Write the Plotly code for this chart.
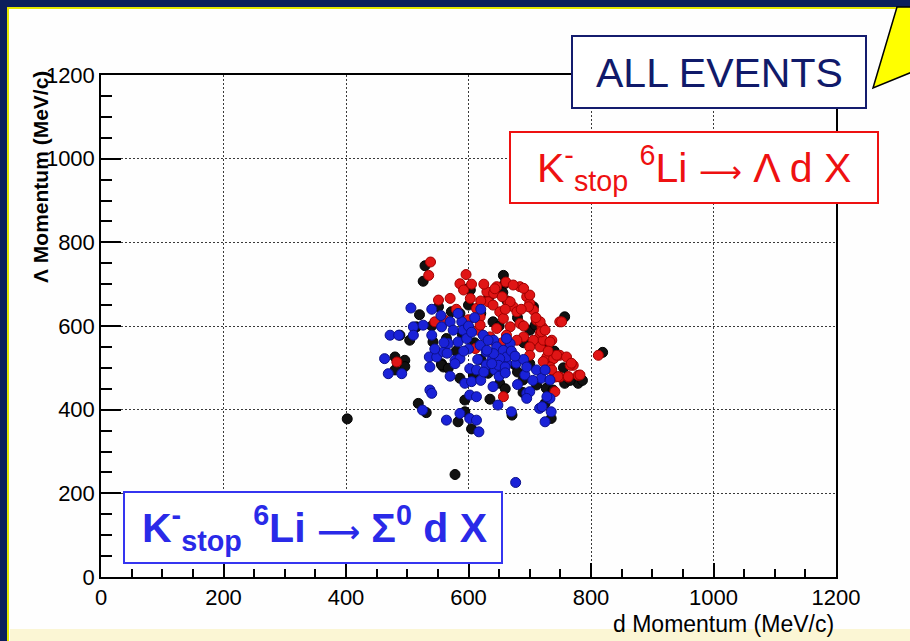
import plotly.graph_objects as go

# ---------------- data (MeV/c) ----------------
# all events (black)
black_points = [
    (402, 378), (578, 245), (529, 744), (526, 707), (599, 689), (551, 646), (520, 627),
    (515, 598), (488, 578), (504, 566), (480, 526), (496, 518), (556, 510), (542, 562),
    (572, 634), (586, 630), (564, 570), (559, 502), (480, 495), (496, 503), (556, 507),
    (567, 499), (586, 475), (608, 483), (594, 423), (518, 415), (531, 393), (583, 371),
    (594, 395), (605, 354), (632, 487), (651, 463), (635, 425), (671, 387), (676, 507),
    (689, 471), (689, 441), (711, 459), (727, 451), (725, 415), (735, 379), (779, 463),
    (757, 463), (738, 447), (657, 721), (659, 701), (706, 646), (722, 554), (757, 622),
    (819, 537), (725, 518), (600, 650), (620, 630), (640, 610), (680, 620), (700, 590),
    (610, 560), (590, 580), (663, 660), (690, 560), (580, 540), (620, 520), (650, 600),
    (700, 510), (740, 540), (755, 500), (680, 490), (660, 450), (540, 600), (656, 680),
    (633, 668), (603, 686), (709, 602), (766, 470), (786, 470),
]
# K-stop 6Li -> Lambda d X (red)
red_points = [
    (538, 753), (535, 721), (596, 723), (586, 701), (592, 686), (603, 666), (551, 662),
    (570, 666), (661, 705), (630, 682), (641, 678), (632, 658), (665, 658), (673, 646),
    (679, 634), (651, 634), (613, 642), (619, 622), (695, 670), (700, 654), (706, 638),
    (711, 614), (720, 598), (717, 582), (706, 566), (749, 610), (812, 530), (483, 514),
    (657, 431), (728, 526), (739, 522), (749, 530), (760, 526), (771, 506), (741, 478),
    (749, 478), (763, 478), (779, 482), (733, 502), (736, 566), (545, 610), (603, 586),
    (616, 590), (668, 598), (684, 606), (690, 574), (700, 550), (717, 550), (679, 566),
    (638, 566), (611, 546), (684, 694), (673, 698), (646, 694), (722, 566), (643, 689),
    (668, 658), (657, 618), (646, 594), (662, 578), (700, 674), (698, 646), (717, 610),
    (719, 586), (733, 562), (752, 610), (744, 530), (766, 506), (561, 614), (619, 602),
    (635, 574), (722, 515), (736, 495), (746, 479), (763, 479), (782, 483), (768, 511),
    (741, 443), (625, 700), (655, 670), (690, 690), (710, 620), (725, 590), (605, 700),
    (580, 640), (690, 600), (655, 560), (700, 530), (620, 660), (660, 640), (640, 650),
    (600, 615), (686, 640), (730, 540),
]
# K-stop 6Li -> Sigma0 d X (blue)
blue_points = [
    (506, 643), (472, 578), (510, 598), (526, 602), (486, 578), (510, 578), (463, 522),
    (469, 486), (491, 486), (536, 526), (548, 526), (559, 538), (578, 518), (540, 578),
    (556, 598), (570, 610), (589, 610), (583, 630), (591, 590), (583, 562), (597, 570),
    (567, 558), (624, 578), (629, 538), (619, 554), (638, 518), (602, 498), (586, 522),
    (578, 510), (570, 480), (594, 463), (605, 467), (613, 495), (537, 447), (602, 435),
    (613, 431), (525, 399), (564, 375), (586, 391), (602, 379), (613, 375), (617, 347),
    (629, 507), (643, 495), (654, 503), (662, 511), (640, 455), (648, 411), (670, 395),
    (678, 511), (692, 483), (695, 439), (700, 443), (695, 427), (711, 495), (719, 475),
    (733, 471), (733, 427), (716, 403), (735, 395), (725, 371), (677, 226), (641, 566),
    (646, 550), (657, 542), (662, 526), (651, 522), (641, 534), (630, 542), (668, 558),
    (649, 506), (660, 502), (638, 510), (632, 566), (662, 570), (540, 640), (555, 625),
    (600, 600), (610, 620), (620, 640), (560, 560), (545, 545), (537, 502), (540, 439),
    (690, 520), (705, 470), (680, 460), (620, 470), (650, 480), (670, 540), (615, 520),
    (600, 545), (728, 431), (720, 407), (725, 495), (695, 502), (575, 590), (605, 585),
    (565, 535), (625, 490), (660, 488), (592, 540), (676, 528),
]
axis_ticks = [0, 200, 400, 600, 800, 1000, 1200]
x_title = "d Momentum (MeV/c)"
y_title = "<b>Λ Momentum (MeV/c)</b>"
ARROW = "<span style='font-family:DejaVu Sans;font-size:30px'>⟶</span>"
label_all = "ALL EVENTS"
label_lambda = "K<sup>-</sup><sub>stop</sub> <sup>6</sup>Li " + ARROW + " Λ d X"
label_sigma = "<b>K<sup>-</sup><sub>stop</sub> <sup>6</sup>Li " + ARROW + " Σ<sup>0</sup> d X</b>"

# ---------------- layout helpers ----------------
W, H = 910, 641
L, R, T, B = 101, 74, 75, 64
PW, PH = W - L - R, H - T - B
FONT = "Liberation Sans, Arial, Helvetica, sans-serif"


def fx(px):
    return (px - L) / PW


def fy(py):
    return (H - B - py) / PH


def xy(points):
    return [p[0] for p in points], [p[1] for p in points]


fig = go.Figure()
for pts, col, rim in [
    (black_points, "#111111", "#000000"),
    (red_points, "#e01515", "#a00000"),
    (blue_points, "#1a22d8", "#0c108a"),
]:
    xs, ys = xy(pts)
    fig.add_trace(go.Scatter(
        x=xs, y=ys, mode="markers",
        marker=dict(size=10, color=col, line=dict(width=1, color=rim)),
        showlegend=False, hoverinfo="skip",
    ))

axis_common = dict(
    range=[0, 1200], tickvals=axis_ticks, ticks="inside", tickcolor="black",
    tickwidth=1.5, showline=True, linecolor="black", linewidth=1.5, mirror=True,
    showgrid=True, gridcolor="#3a3a3a", gridwidth=1, griddash="2px,2px",
    zeroline=False, tickfont=dict(family=FONT, size=22, color="black"),
)
fig.update_xaxes(**axis_common, ticklen=14,
                 minor=dict(dtick=50, ticklen=8, ticks="inside", tickcolor="black",
                            tickwidth=1.5, showgrid=False))
fig.update_yaxes(**axis_common, ticklen=20,
                 minor=dict(dtick=50, ticklen=11, ticks="inside", tickcolor="black",
                            tickwidth=1.5, showgrid=False))

shapes = [
    # slide panel
    dict(type="rect", xref="paper", yref="paper", x0=fx(8), x1=fx(914), y0=fy(645), y1=fy(8),
         fillcolor="#fefefe", line=dict(color="#e6e600", width=2), layer="below"),
    dict(type="rect", xref="paper", yref="paper", x0=fx(10), x1=fx(912), y0=fy(645), y1=fy(629),
         fillcolor="#fbf6d4", line=dict(width=0), layer="below"),
    # callout tail
    dict(type="path", xref="paper", yref="paper",
         path="M %f,%f L %f,%f L %f,%f L %f,%f Z" % (fx(897), fy(7), fx(873), fy(88),
                                                     fx(912), fy(72), fx(912), fy(7)),
         fillcolor="#ffff00", line=dict(color="black", width=1.5), layer="above"),
    # label boxes
    dict(type="rect", xref="paper", yref="paper", x0=fx(572), x1=fx(866), y0=fy(108), y1=fy(36),
         fillcolor="white", line=dict(color="#141c6e", width=2), layer="above"),
    dict(type="rect", xref="paper", yref="paper", x0=fx(510), x1=fx(878), y0=fy(203), y1=fy(132),
         fillcolor="white", line=dict(color="#ee1111", width=2), layer="above"),
    dict(type="rect", xref="paper", yref="paper", x0=fx(124), x1=fx(502), y0=fy(563), y1=fy(492),
         fillcolor="white", line=dict(color="#3535f0", width=2), layer="above"),
]

annotations = [
    dict(text=label_all, x=fx(719), y=fy(73), xref="paper", yref="paper", showarrow=False,
         xanchor="center", yanchor="middle", font=dict(family=FONT, size=41, color="#101a6a")),
    dict(text=label_lambda, x=fx(694), y=fy(168), xref="paper", yref="paper", showarrow=False,
         xanchor="center", yanchor="middle", font=dict(family=FONT, size=41, color="#ee1111")),
    dict(text=label_sigma, x=fx(314), y=fy(528), xref="paper", yref="paper", showarrow=False,
         xanchor="center", yanchor="middle", font=dict(family=FONT, size=41, color="#2a2ae8")),
    dict(text=x_title, x=1.0, y=fy(624), xref="paper", yref="paper", showarrow=False,
         xanchor="right", yanchor="middle", font=dict(family=FONT, size=23, color="black")),
    dict(text=y_title, x=fx(40), y=fy(69), xref="paper", yref="paper", showarrow=False,
         textangle=-90, xanchor="center", yanchor="top",
         font=dict(family=FONT, size=21, color="black")),
]

fig.update_layout(
    width=W, height=H, margin=dict(l=L, r=R, t=T, b=B, autoexpand=False),
    paper_bgcolor="#0c1e5c", plot_bgcolor="white",
    shapes=shapes, annotations=annotations, showlegend=False,
)

fig.write_html("out.html", config={"displayModeBar": False},
               post_script="document.body.style.margin='0px';document.body.style.padding='0px';")
